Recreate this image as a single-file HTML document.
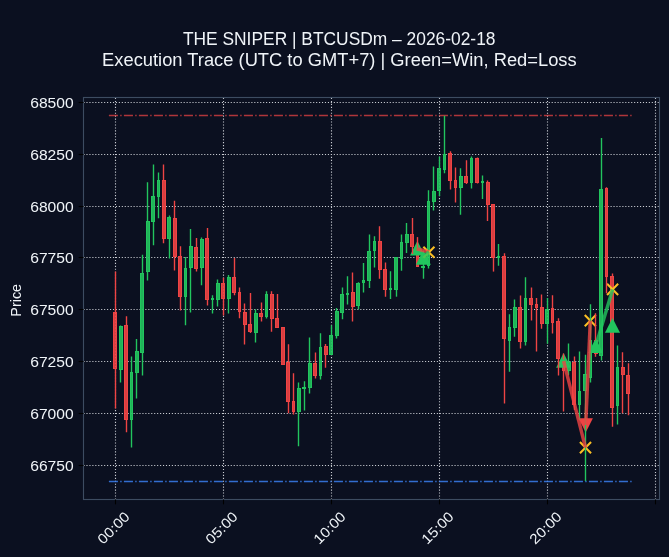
<!DOCTYPE html>
<html><head><meta charset="utf-8"><title>THE SNIPER | BTCUSDm</title>
<style>html,body{margin:0;padding:0;background:#0b1020;overflow:hidden}body{width:669px;height:557px;font-family:"Liberation Sans",sans-serif}</style>
</head><body>
<svg width="669" height="557" viewBox="0 0 669 557" style="display:block;font-family:'Liberation Sans',sans-serif">
<rect width="669" height="557" fill="#0b1020"/>
<g stroke="#c9ccd2" stroke-width="1.11" stroke-dasharray="1.1111 1.8333" fill="none">
<path d="M83.5 102.50H659.5"/>
<path d="M83.5 154.50H659.5"/>
<path d="M83.5 206.50H659.5"/>
<path d="M83.5 257.50H659.5"/>
<path d="M83.5 309.50H659.5"/>
<path d="M83.5 361.50H659.5"/>
<path d="M83.5 413.50H659.5"/>
<path d="M83.5 465.50H659.5"/>
<path d="M115.50 499.5V97.5"/>
<path d="M223.50 499.5V97.5"/>
<path d="M331.50 499.5V97.5"/>
<path d="M439.50 499.5V97.5"/>
<path d="M547.50 499.5V97.5"/>
<path d="M655.50 499.5V97.5"/>
</g>
<path d="M108.9 115.5H631.8" stroke="#ef4444" stroke-opacity="0.72" stroke-width="1.39" stroke-dasharray="9.06 2.26 1.42 2.26" fill="none"/>
<path d="M108.9 481.5H632" stroke="#3b82f6" stroke-opacity="0.82" stroke-width="1.39" stroke-dasharray="9.06 2.26 1.42 2.26" fill="none"/>
<rect x="113.5" y="312.5" width="3" height="56.0" fill="#ef4444" fill-opacity="0.9" stroke="#ef4444" stroke-width="1"/>
<rect x="119.5" y="326.5" width="3" height="43.0" fill="#22c55e" fill-opacity="0.9" stroke="#22c55e" stroke-width="1"/>
<rect x="124.5" y="325.5" width="3" height="94.0" fill="#ef4444" fill-opacity="0.9" stroke="#ef4444" stroke-width="1"/>
<rect x="130.5" y="372.5" width="2" height="47.0" fill="#22c55e" fill-opacity="0.9" stroke="#22c55e" stroke-width="1"/>
<rect x="135.5" y="351.5" width="3" height="21.0" fill="#22c55e" fill-opacity="0.9" stroke="#22c55e" stroke-width="1"/>
<rect x="140.5" y="273.5" width="3" height="79.0" fill="#22c55e" fill-opacity="0.9" stroke="#22c55e" stroke-width="1"/>
<rect x="146.5" y="221.5" width="3" height="50.0" fill="#22c55e" fill-opacity="0.9" stroke="#22c55e" stroke-width="1"/>
<rect x="151.5" y="196.5" width="3" height="25.0" fill="#22c55e" fill-opacity="0.9" stroke="#22c55e" stroke-width="1"/>
<rect x="157.5" y="180.5" width="2" height="16.0" fill="#22c55e" fill-opacity="0.9" stroke="#22c55e" stroke-width="1"/>
<rect x="162.5" y="180.5" width="3" height="58.0" fill="#ef4444" fill-opacity="0.9" stroke="#ef4444" stroke-width="1"/>
<rect x="167.5" y="217.5" width="3" height="21.0" fill="#22c55e" fill-opacity="0.9" stroke="#22c55e" stroke-width="1"/>
<rect x="173.5" y="218.5" width="3" height="38.0" fill="#ef4444" fill-opacity="0.9" stroke="#ef4444" stroke-width="1"/>
<rect x="178.5" y="256.5" width="3" height="40.0" fill="#ef4444" fill-opacity="0.9" stroke="#ef4444" stroke-width="1"/>
<rect x="184.5" y="268.5" width="2" height="28.0" fill="#22c55e" fill-opacity="0.9" stroke="#22c55e" stroke-width="1"/>
<rect x="189.5" y="246.5" width="3" height="21.0" fill="#22c55e" fill-opacity="0.9" stroke="#22c55e" stroke-width="1"/>
<rect x="194.5" y="247.5" width="3" height="21.0" fill="#ef4444" fill-opacity="0.9" stroke="#ef4444" stroke-width="1"/>
<rect x="200.5" y="239.5" width="3" height="28.0" fill="#22c55e" fill-opacity="0.9" stroke="#22c55e" stroke-width="1"/>
<rect x="205.5" y="238.5" width="3" height="61.0" fill="#ef4444" fill-opacity="0.9" stroke="#ef4444" stroke-width="1"/>
<rect x="211.5" y="298.5" width="2" height="1.0" fill="#22c55e" fill-opacity="0.9" stroke="#22c55e" stroke-width="1"/>
<rect x="216.5" y="283.5" width="3" height="16.0" fill="#22c55e" fill-opacity="0.9" stroke="#22c55e" stroke-width="1"/>
<rect x="221.5" y="283.5" width="3" height="15.0" fill="#ef4444" fill-opacity="0.9" stroke="#ef4444" stroke-width="1"/>
<rect x="227.5" y="277.5" width="3" height="21.0" fill="#22c55e" fill-opacity="0.9" stroke="#22c55e" stroke-width="1"/>
<rect x="232.5" y="277.5" width="3" height="15.0" fill="#ef4444" fill-opacity="0.9" stroke="#ef4444" stroke-width="1"/>
<rect x="238.5" y="292.5" width="2" height="19.0" fill="#ef4444" fill-opacity="0.9" stroke="#ef4444" stroke-width="1"/>
<rect x="243.5" y="312.5" width="3" height="12.0" fill="#ef4444" fill-opacity="0.9" stroke="#ef4444" stroke-width="1"/>
<rect x="248.5" y="324.5" width="3" height="7.0" fill="#ef4444" fill-opacity="0.9" stroke="#ef4444" stroke-width="1"/>
<rect x="254.5" y="313.5" width="3" height="19.0" fill="#22c55e" fill-opacity="0.9" stroke="#22c55e" stroke-width="1"/>
<rect x="259.5" y="313.5" width="3" height="3.0" fill="#ef4444" fill-opacity="0.9" stroke="#ef4444" stroke-width="1"/>
<rect x="265.5" y="294.5" width="2" height="22.0" fill="#22c55e" fill-opacity="0.9" stroke="#22c55e" stroke-width="1"/>
<rect x="270.5" y="294.5" width="3" height="24.0" fill="#ef4444" fill-opacity="0.9" stroke="#ef4444" stroke-width="1"/>
<rect x="275.5" y="318.5" width="3" height="9.0" fill="#ef4444" fill-opacity="0.9" stroke="#ef4444" stroke-width="1"/>
<rect x="281.5" y="327.5" width="3" height="37.0" fill="#ef4444" fill-opacity="0.9" stroke="#ef4444" stroke-width="1"/>
<rect x="286.5" y="362.5" width="3" height="39.0" fill="#ef4444" fill-opacity="0.9" stroke="#ef4444" stroke-width="1"/>
<rect x="292.5" y="401.5" width="2" height="10.0" fill="#ef4444" fill-opacity="0.9" stroke="#ef4444" stroke-width="1"/>
<rect x="297.5" y="388.5" width="3" height="23.0" fill="#22c55e" fill-opacity="0.9" stroke="#22c55e" stroke-width="1"/>
<rect x="302.5" y="387.5" width="3" height="1.0" fill="#22c55e" fill-opacity="0.9" stroke="#22c55e" stroke-width="1"/>
<rect x="308.5" y="363.5" width="3" height="24.0" fill="#22c55e" fill-opacity="0.9" stroke="#22c55e" stroke-width="1"/>
<rect x="313.5" y="363.5" width="3" height="12.0" fill="#ef4444" fill-opacity="0.9" stroke="#ef4444" stroke-width="1"/>
<rect x="319.5" y="347.5" width="2" height="28.0" fill="#22c55e" fill-opacity="0.9" stroke="#22c55e" stroke-width="1"/>
<rect x="324.5" y="346.5" width="3" height="8.0" fill="#ef4444" fill-opacity="0.9" stroke="#ef4444" stroke-width="1"/>
<rect x="329.5" y="335.5" width="3" height="19.0" fill="#22c55e" fill-opacity="0.9" stroke="#22c55e" stroke-width="1"/>
<rect x="335.5" y="311.5" width="3" height="24.0" fill="#22c55e" fill-opacity="0.9" stroke="#22c55e" stroke-width="1"/>
<rect x="340.5" y="294.5" width="3" height="18.0" fill="#22c55e" fill-opacity="0.9" stroke="#22c55e" stroke-width="1"/>
<rect x="346.5" y="293.5" width="2" height="1.0" fill="#22c55e" fill-opacity="0.9" stroke="#22c55e" stroke-width="1"/>
<rect x="351.5" y="292.5" width="3" height="14.0" fill="#ef4444" fill-opacity="0.9" stroke="#ef4444" stroke-width="1"/>
<rect x="356.5" y="283.5" width="3" height="22.0" fill="#22c55e" fill-opacity="0.9" stroke="#22c55e" stroke-width="1"/>
<rect x="362.5" y="280.5" width="2" height="2.0" fill="#22c55e" fill-opacity="0.9" stroke="#22c55e" stroke-width="1"/>
<rect x="367.5" y="251.5" width="3" height="29.0" fill="#22c55e" fill-opacity="0.9" stroke="#22c55e" stroke-width="1"/>
<rect x="373.5" y="241.5" width="2" height="9.0" fill="#22c55e" fill-opacity="0.9" stroke="#22c55e" stroke-width="1"/>
<rect x="378.5" y="241.5" width="3" height="28.0" fill="#ef4444" fill-opacity="0.9" stroke="#ef4444" stroke-width="1"/>
<rect x="383.5" y="269.5" width="3" height="20.0" fill="#ef4444" fill-opacity="0.9" stroke="#ef4444" stroke-width="1"/>
<rect x="389.5" y="288.5" width="2" height="1.0" fill="#22c55e" fill-opacity="0.9" stroke="#22c55e" stroke-width="1"/>
<rect x="394.5" y="257.5" width="3" height="32.0" fill="#22c55e" fill-opacity="0.9" stroke="#22c55e" stroke-width="1"/>
<rect x="400.5" y="242.5" width="2" height="16.0" fill="#22c55e" fill-opacity="0.9" stroke="#22c55e" stroke-width="1"/>
<rect x="405.5" y="234.5" width="3" height="8.0" fill="#22c55e" fill-opacity="0.9" stroke="#22c55e" stroke-width="1"/>
<rect x="410.5" y="234.5" width="3" height="12.0" fill="#ef4444" fill-opacity="0.9" stroke="#ef4444" stroke-width="1"/>
<rect x="416.5" y="247.5" width="2" height="19.0" fill="#ef4444" fill-opacity="0.9" stroke="#ef4444" stroke-width="1"/>
<rect x="421.5" y="266.5" width="3" height="1.0" fill="#22c55e" fill-opacity="0.9" stroke="#22c55e" stroke-width="1"/>
<rect x="427.5" y="201.5" width="2" height="64.0" fill="#22c55e" fill-opacity="0.9" stroke="#22c55e" stroke-width="1"/>
<rect x="432.5" y="191.5" width="3" height="10.0" fill="#22c55e" fill-opacity="0.9" stroke="#22c55e" stroke-width="1"/>
<rect x="437.5" y="168.5" width="3" height="22.0" fill="#22c55e" fill-opacity="0.9" stroke="#22c55e" stroke-width="1"/>
<rect x="443.5" y="154.5" width="2" height="15.0" fill="#22c55e" fill-opacity="0.9" stroke="#22c55e" stroke-width="1"/>
<rect x="448.5" y="153.5" width="3" height="27.0" fill="#ef4444" fill-opacity="0.9" stroke="#ef4444" stroke-width="1"/>
<rect x="454.5" y="180.5" width="2" height="7.0" fill="#ef4444" fill-opacity="0.9" stroke="#ef4444" stroke-width="1"/>
<rect x="459.5" y="176.5" width="3" height="11.0" fill="#22c55e" fill-opacity="0.9" stroke="#22c55e" stroke-width="1"/>
<rect x="464.5" y="176.5" width="3" height="6.0" fill="#ef4444" fill-opacity="0.9" stroke="#ef4444" stroke-width="1"/>
<rect x="470.5" y="158.5" width="2" height="24.0" fill="#22c55e" fill-opacity="0.9" stroke="#22c55e" stroke-width="1"/>
<rect x="475.5" y="158.5" width="3" height="24.0" fill="#ef4444" fill-opacity="0.9" stroke="#ef4444" stroke-width="1"/>
<rect x="481.5" y="181.5" width="2" height="1.0" fill="#22c55e" fill-opacity="0.9" stroke="#22c55e" stroke-width="1"/>
<rect x="486.5" y="182.5" width="3" height="22.0" fill="#ef4444" fill-opacity="0.9" stroke="#ef4444" stroke-width="1"/>
<rect x="491.5" y="204.5" width="3" height="53.0" fill="#ef4444" fill-opacity="0.9" stroke="#ef4444" stroke-width="1"/>
<rect x="497.5" y="256.5" width="2" height="1.0" fill="#22c55e" fill-opacity="0.9" stroke="#22c55e" stroke-width="1"/>
<rect x="502.5" y="256.5" width="3" height="82.0" fill="#ef4444" fill-opacity="0.9" stroke="#ef4444" stroke-width="1"/>
<rect x="508.5" y="327.5" width="2" height="13.0" fill="#22c55e" fill-opacity="0.9" stroke="#22c55e" stroke-width="1"/>
<rect x="513.5" y="307.5" width="3" height="20.0" fill="#22c55e" fill-opacity="0.9" stroke="#22c55e" stroke-width="1"/>
<rect x="518.5" y="307.5" width="3" height="34.0" fill="#ef4444" fill-opacity="0.9" stroke="#ef4444" stroke-width="1"/>
<rect x="524.5" y="298.5" width="2" height="43.0" fill="#22c55e" fill-opacity="0.9" stroke="#22c55e" stroke-width="1"/>
<rect x="529.5" y="298.5" width="3" height="6.0" fill="#ef4444" fill-opacity="0.9" stroke="#ef4444" stroke-width="1"/>
<rect x="535.5" y="304.5" width="2" height="3.0" fill="#ef4444" fill-opacity="0.9" stroke="#ef4444" stroke-width="1"/>
<rect x="540.5" y="307.5" width="3" height="16.0" fill="#ef4444" fill-opacity="0.9" stroke="#ef4444" stroke-width="1"/>
<rect x="545.5" y="309.5" width="3" height="14.0" fill="#22c55e" fill-opacity="0.9" stroke="#22c55e" stroke-width="1"/>
<rect x="551.5" y="308.5" width="2" height="14.0" fill="#ef4444" fill-opacity="0.9" stroke="#ef4444" stroke-width="1"/>
<rect x="556.5" y="321.5" width="3" height="37.0" fill="#ef4444" fill-opacity="0.9" stroke="#ef4444" stroke-width="1"/>
<rect x="562.5" y="359.5" width="2" height="11.0" fill="#ef4444" fill-opacity="0.9" stroke="#ef4444" stroke-width="1"/>
<rect x="567.5" y="362.5" width="3" height="8.0" fill="#22c55e" fill-opacity="0.9" stroke="#22c55e" stroke-width="1"/>
<rect x="572.5" y="362.5" width="3" height="42.0" fill="#ef4444" fill-opacity="0.9" stroke="#ef4444" stroke-width="1"/>
<rect x="578.5" y="391.5" width="2" height="13.0" fill="#22c55e" fill-opacity="0.9" stroke="#22c55e" stroke-width="1"/>
<rect x="583.5" y="374.5" width="3" height="16.0" fill="#22c55e" fill-opacity="0.9" stroke="#22c55e" stroke-width="1"/>
<rect x="589.5" y="340.5" width="2" height="37.0" fill="#22c55e" fill-opacity="0.9" stroke="#22c55e" stroke-width="1"/>
<rect x="594.5" y="340.5" width="3" height="13.0" fill="#ef4444" fill-opacity="0.9" stroke="#ef4444" stroke-width="1"/>
<rect x="599.5" y="189.5" width="3" height="166.0" fill="#22c55e" fill-opacity="0.9" stroke="#22c55e" stroke-width="1"/>
<rect x="605.5" y="188.5" width="2" height="88.0" fill="#ef4444" fill-opacity="0.9" stroke="#ef4444" stroke-width="1"/>
<rect x="610.5" y="276.5" width="3" height="131.0" fill="#ef4444" fill-opacity="0.9" stroke="#ef4444" stroke-width="1"/>
<rect x="616.5" y="367.5" width="2" height="38.0" fill="#22c55e" fill-opacity="0.9" stroke="#22c55e" stroke-width="1"/>
<rect x="621.5" y="367.5" width="3" height="7.0" fill="#ef4444" fill-opacity="0.9" stroke="#ef4444" stroke-width="1"/>
<rect x="626.5" y="375.5" width="3" height="18.0" fill="#ef4444" fill-opacity="0.9" stroke="#ef4444" stroke-width="1"/>
<path d="M417.4 240.8L424.79999999999995 255.6H410.0Z" fill="#22c55e"/>
<path d="M423.4 250.0L430.84999999999997 264.8H415.95Z" fill="#22c55e"/>
<path d="M423.35 246.75L434.45 257.85M423.35 257.85L434.45 246.75" stroke="#fbbf24" stroke-width="2.08" fill="none"/>
<path d="M563.6 353.0L571.0500000000001 367.7H556.15Z" fill="#22c55e"/>
<path d="M585.7 432.6L592.9000000000001 418.2H578.5Z" fill="#ef4444"/>
<path d="M595.7 338.2L603.1 352.9H588.3000000000001Z" fill="#22c55e"/>
<path d="M612.5 318.0L620.05 332.7H604.95Z" fill="#22c55e"/>
<path d="M579.95 442.05L591.05 453.15M579.95 453.15L591.05 442.05" stroke="#fbbf24" stroke-width="2.08" fill="none"/>
<path d="M584.75 315.05L595.85 326.15M584.75 326.15L595.85 315.05" stroke="#fbbf24" stroke-width="2.08" fill="none"/>
<path d="M607.05 283.85L618.15 294.95M607.05 294.95L618.15 283.85" stroke="#fbbf24" stroke-width="2.08" fill="none"/>
<path d="M115.5 271.4V312.5M115.5 368.5V408.5" stroke="#ef4444" stroke-width="1.39" fill="none"/>
<path d="M120.5 325.5V326.5M120.5 369.5V382.5" stroke="#22c55e" stroke-width="1.39" fill="none"/>
<path d="M126.5 316.3V325.5M126.5 419.5V432.3" stroke="#ef4444" stroke-width="1.39" fill="none"/>
<path d="M131.5 356.6V372.5M131.5 419.5V447.6" stroke="#22c55e" stroke-width="1.39" fill="none"/>
<path d="M136.5 339.0V351.5M136.5 372.5V398.6" stroke="#22c55e" stroke-width="1.39" fill="none"/>
<path d="M142.5 254.7V273.5M142.5 352.5V375.4" stroke="#22c55e" stroke-width="1.39" fill="none"/>
<path d="M147.5 182.3V221.5M147.5 271.5V280.4" stroke="#22c55e" stroke-width="1.39" fill="none"/>
<path d="M153.5 164.4V196.5M153.5 221.5V245.2" stroke="#22c55e" stroke-width="1.39" fill="none"/>
<path d="M158.5 172.5V180.5M158.5 196.5V218.3" stroke="#22c55e" stroke-width="1.39" fill="none"/>
<path d="M163.5 164.4V180.5M163.5 238.5V243.3" stroke="#ef4444" stroke-width="1.39" fill="none"/>
<path d="M169.5 215.6V217.5M169.5 238.5V258.5" stroke="#22c55e" stroke-width="1.39" fill="none"/>
<path d="M174.5 200.7V218.5M174.5 256.5V270.5" stroke="#ef4444" stroke-width="1.39" fill="none"/>
<path d="M180.5 246.2V256.5M180.5 296.5V310.6" stroke="#ef4444" stroke-width="1.39" fill="none"/>
<path d="M185.5 257.0V268.5M185.5 296.5V325.3" stroke="#22c55e" stroke-width="1.39" fill="none"/>
<path d="M190.5 229.0V246.5M190.5 267.5V312.4" stroke="#22c55e" stroke-width="1.39" fill="none"/>
<path d="M196.5 238.0V247.5M196.5 268.5V271.4" stroke="#ef4444" stroke-width="1.39" fill="none"/>
<path d="M201.5 237.5V239.5M201.5 267.5V285.3" stroke="#22c55e" stroke-width="1.39" fill="none"/>
<path d="M207.5 228.1V238.5M207.5 299.5V305.6" stroke="#ef4444" stroke-width="1.39" fill="none"/>
<path d="M212.5 295.3V298.5M212.5 299.5V313.6" stroke="#22c55e" stroke-width="1.39" fill="none"/>
<path d="M217.5 279.5V283.5M217.5 299.5V306.5" stroke="#22c55e" stroke-width="1.39" fill="none"/>
<path d="M223.5 277.8V283.5M223.5 298.5V315.5" stroke="#ef4444" stroke-width="1.39" fill="none"/>
<path d="M228.5 275.1V277.5M228.5 298.5V313.4" stroke="#22c55e" stroke-width="1.39" fill="none"/>
<path d="M234.5 258.1V277.5M234.5 292.5V295.3" stroke="#ef4444" stroke-width="1.39" fill="none"/>
<path d="M239.5 287.4V292.5M239.5 311.5V318.3" stroke="#ef4444" stroke-width="1.39" fill="none"/>
<path d="M244.5 303.5V312.5M244.5 324.5V344.6" stroke="#ef4444" stroke-width="1.39" fill="none"/>
<path d="M250.5 293.1V324.5M250.5 331.5V333.0" stroke="#ef4444" stroke-width="1.39" fill="none"/>
<path d="M255.5 309.3V313.5M255.5 332.5V342.4" stroke="#22c55e" stroke-width="1.39" fill="none"/>
<path d="M261.5 302.5V313.5M261.5 316.5V321.5" stroke="#ef4444" stroke-width="1.39" fill="none"/>
<path d="M266.5 291.3V294.5M266.5 316.5V318.6" stroke="#22c55e" stroke-width="1.39" fill="none"/>
<path d="M271.5 291.3V294.5M271.5 318.5V331.7" stroke="#ef4444" stroke-width="1.39" fill="none"/>
<path d="M277.5 294.0V318.5" stroke="#ef4444" stroke-width="1.39" fill="none"/>
<path d="M288.5 344.3V362.5M288.5 401.5V413.3" stroke="#ef4444" stroke-width="1.39" fill="none"/>
<path d="M293.5 373.2V401.5M293.5 411.5V414.5" stroke="#ef4444" stroke-width="1.39" fill="none"/>
<path d="M298.5 382.6V388.5M298.5 411.5V446.3" stroke="#22c55e" stroke-width="1.39" fill="none"/>
<path d="M304.5 381.3V387.5M304.5 388.5V410.4" stroke="#22c55e" stroke-width="1.39" fill="none"/>
<path d="M309.5 337.5V363.5M309.5 387.5V393.5" stroke="#22c55e" stroke-width="1.39" fill="none"/>
<path d="M315.5 352.6V363.5M315.5 375.5V378.6" stroke="#ef4444" stroke-width="1.39" fill="none"/>
<path d="M320.5 333.2V347.5M320.5 375.5V379.5" stroke="#22c55e" stroke-width="1.39" fill="none"/>
<path d="M325.5 344.0V346.5M325.5 354.5V367.8" stroke="#ef4444" stroke-width="1.39" fill="none"/>
<path d="M331.5 325.3V335.5" stroke="#22c55e" stroke-width="1.39" fill="none"/>
<path d="M336.5 308.1V311.5M336.5 335.5V338.6" stroke="#22c55e" stroke-width="1.39" fill="none"/>
<path d="M342.5 287.4V294.5M342.5 312.5V319.3" stroke="#22c55e" stroke-width="1.39" fill="none"/>
<path d="M347.5 276.2V293.5M347.5 294.5V304.4" stroke="#22c55e" stroke-width="1.39" fill="none"/>
<path d="M352.5 272.5V292.5M352.5 306.5V321.6" stroke="#ef4444" stroke-width="1.39" fill="none"/>
<path d="M358.5 282.3V283.5M358.5 305.5V309.2" stroke="#22c55e" stroke-width="1.39" fill="none"/>
<path d="M363.5 263.1V280.5M363.5 282.5V292.4" stroke="#22c55e" stroke-width="1.39" fill="none"/>
<path d="M369.5 234.4V251.5M369.5 280.5V287.9" stroke="#22c55e" stroke-width="1.39" fill="none"/>
<path d="M374.5 236.2V241.5M374.5 250.5V267.6" stroke="#22c55e" stroke-width="1.39" fill="none"/>
<path d="M379.5 226.3V241.5M379.5 269.5V278.7" stroke="#ef4444" stroke-width="1.39" fill="none"/>
<path d="M385.5 262.6V269.5M385.5 289.5V296.7" stroke="#ef4444" stroke-width="1.39" fill="none"/>
<path d="M390.5 271.2V288.5M390.5 289.5V299.0" stroke="#22c55e" stroke-width="1.39" fill="none"/>
<path d="M396.5 289.5V296.7" stroke="#22c55e" stroke-width="1.39" fill="none"/>
<path d="M401.5 234.4V242.5M401.5 258.5V270.8" stroke="#22c55e" stroke-width="1.39" fill="none"/>
<path d="M406.5 223.0V234.5M406.5 242.5V252.9" stroke="#22c55e" stroke-width="1.39" fill="none"/>
<path d="M412.5 218.0V234.5M412.5 246.5V254.0" stroke="#ef4444" stroke-width="1.39" fill="none"/>
<path d="M417.5 237.1V247.5" stroke="#ef4444" stroke-width="1.39" fill="none"/>
<path d="M423.5 258.0V266.5M423.5 267.5V278.7" stroke="#22c55e" stroke-width="1.39" fill="none"/>
<path d="M428.5 190.3V201.5M428.5 265.5V268.5" stroke="#22c55e" stroke-width="1.39" fill="none"/>
<path d="M433.5 166.4V191.5M433.5 201.5V210.5" stroke="#22c55e" stroke-width="1.39" fill="none"/>
<path d="M439.5 156.6V168.5M439.5 190.5V196.0" stroke="#22c55e" stroke-width="1.39" fill="none"/>
<path d="M444.5 115.8V154.5M444.5 169.5V173.3" stroke="#22c55e" stroke-width="1.39" fill="none"/>
<path d="M450.5 151.3V153.5M450.5 180.5V189.4" stroke="#ef4444" stroke-width="1.39" fill="none"/>
<path d="M455.5 167.5V180.5M455.5 187.5V202.4" stroke="#ef4444" stroke-width="1.39" fill="none"/>
<path d="M460.5 168.2V176.5M460.5 187.5V214.7" stroke="#22c55e" stroke-width="1.39" fill="none"/>
<path d="M466.5 160.3V176.5M466.5 182.5V184.0" stroke="#ef4444" stroke-width="1.39" fill="none"/>
<path d="M471.5 156.6V158.5M471.5 182.5V188.5" stroke="#22c55e" stroke-width="1.39" fill="none"/>
<path d="M477.5 157.5V158.5M477.5 182.5V183.5" stroke="#ef4444" stroke-width="1.39" fill="none"/>
<path d="M482.5 175.4V181.5M482.5 182.5V198.9" stroke="#22c55e" stroke-width="1.39" fill="none"/>
<path d="M487.5 180.4V182.5M487.5 204.5V221.0" stroke="#ef4444" stroke-width="1.39" fill="none"/>
<path d="M493.5 257.5V271.6" stroke="#ef4444" stroke-width="1.39" fill="none"/>
<path d="M498.5 244.1V256.5M498.5 257.5V265.8" stroke="#22c55e" stroke-width="1.39" fill="none"/>
<path d="M504.5 253.2V256.5M504.5 338.5V403.6" stroke="#ef4444" stroke-width="1.39" fill="none"/>
<path d="M509.5 314.3V327.5M509.5 340.5V371.7" stroke="#22c55e" stroke-width="1.39" fill="none"/>
<path d="M514.5 299.4V307.5M514.5 327.5V336.7" stroke="#22c55e" stroke-width="1.39" fill="none"/>
<path d="M520.5 295.4V307.5M520.5 341.5V348.5" stroke="#ef4444" stroke-width="1.39" fill="none"/>
<path d="M525.5 277.3V298.5M525.5 341.5V345.6" stroke="#22c55e" stroke-width="1.39" fill="none"/>
<path d="M531.5 287.4V298.5M531.5 304.5V320.4" stroke="#ef4444" stroke-width="1.39" fill="none"/>
<path d="M536.5 298.1V304.5M536.5 307.5V351.6" stroke="#ef4444" stroke-width="1.39" fill="none"/>
<path d="M541.5 294.4V307.5M541.5 323.5V328.7" stroke="#ef4444" stroke-width="1.39" fill="none"/>
<path d="M547.5 298.1V309.5M547.5 323.5V343.8" stroke="#22c55e" stroke-width="1.39" fill="none"/>
<path d="M552.5 295.3V308.5M552.5 322.5V333.6" stroke="#ef4444" stroke-width="1.39" fill="none"/>
<path d="M558.5 318.3V321.5M558.5 358.5V375.4" stroke="#ef4444" stroke-width="1.39" fill="none"/>
<path d="M563.5 353.5V359.5M563.5 370.5V411.6" stroke="#ef4444" stroke-width="1.39" fill="none"/>
<path d="M568.5 343.4V362.5M568.5 370.5V375.2" stroke="#22c55e" stroke-width="1.39" fill="none"/>
<path d="M574.5 356.4V362.5M574.5 404.5V410.0" stroke="#ef4444" stroke-width="1.39" fill="none"/>
<path d="M579.5 351.5V391.5M579.5 404.5V419.9" stroke="#22c55e" stroke-width="1.39" fill="none"/>
<path d="M585.5 354.8V374.5M585.5 390.5V481.0" stroke="#22c55e" stroke-width="1.39" fill="none"/>
<path d="M590.5 304.3V340.5M590.5 377.5V382.4" stroke="#22c55e" stroke-width="1.39" fill="none"/>
<path d="M595.5 313.3V340.5M595.5 353.5V356.8" stroke="#ef4444" stroke-width="1.39" fill="none"/>
<path d="M601.5 138.1V189.5M601.5 355.5V360.4" stroke="#22c55e" stroke-width="1.39" fill="none"/>
<path d="M606.5 187.3V188.5M606.5 276.5V293.2" stroke="#ef4444" stroke-width="1.39" fill="none"/>
<path d="M612.5 273.5V276.5M612.5 407.5V426.7" stroke="#ef4444" stroke-width="1.39" fill="none"/>
<path d="M617.5 345.5V367.5M617.5 405.5V424.4" stroke="#22c55e" stroke-width="1.39" fill="none"/>
<path d="M622.5 352.3V367.5M622.5 374.5V413.2" stroke="#ef4444" stroke-width="1.39" fill="none"/>
<path d="M628.5 363.3V375.5M628.5 393.5V415.2" stroke="#ef4444" stroke-width="1.39" fill="none"/>
<g fill="none" stroke-linecap="butt">
<path d="M416.6 248.8L429.2 252.0" stroke="#ef4444" stroke-opacity="0.8" stroke-width="3.47"/>
<path d="M422.9 257.8L428.9 251.8" stroke="#22c55e" stroke-opacity="0.8" stroke-width="3.47"/>
<path d="M563.6 361.0L585.5 447.6" stroke="#ef4444" stroke-opacity="0.8" stroke-width="3.47"/>
<path d="M585.7 425.0L590.3 320.6" stroke="#ef4444" stroke-opacity="0.8" stroke-width="3.47"/>
<path d="M595.7 346.0L612.6 289.4" stroke="#22c55e" stroke-opacity="0.8" stroke-width="3.47"/>
</g>
<rect x="83.5" y="97.5" width="576.0" height="402.0" fill="none" stroke="#3d4c61" stroke-width="1.11"/>
<g stroke="#000" stroke-width="1.11">
<path d="M78.64 102.50H83.5"/>
<path d="M78.64 154.50H83.5"/>
<path d="M78.64 206.50H83.5"/>
<path d="M78.64 257.50H83.5"/>
<path d="M78.64 309.50H83.5"/>
<path d="M78.64 361.50H83.5"/>
<path d="M78.64 413.50H83.5"/>
<path d="M78.64 465.50H83.5"/>
<path d="M115.50 499.5V504.36"/>
<path d="M223.50 499.5V504.36"/>
<path d="M331.50 499.5V504.36"/>
<path d="M439.50 499.5V504.36"/>
<path d="M547.50 499.5V504.36"/>
<path d="M655.50 499.5V504.36"/>
</g>
<g fill="#f1f5f9" opacity="0.999">
<text x="182.9" y="44.9" font-size="18" textLength="312.6" lengthAdjust="spacingAndGlyphs">THE SNIPER | BTCUSDm – 2026-02-18</text>
<text x="102.1" y="65.9" font-size="18" textLength="474.6" lengthAdjust="spacingAndGlyphs">Execution Trace (UTC to GMT+7) | Green=Win, Red=Loss</text>
<text x="30.2" y="107.90" font-size="14.15" textLength="43.5" lengthAdjust="spacingAndGlyphs">68500</text>
<text x="30.2" y="159.75" font-size="14.15" textLength="43.5" lengthAdjust="spacingAndGlyphs">68250</text>
<text x="30.2" y="211.60" font-size="14.15" textLength="43.5" lengthAdjust="spacingAndGlyphs">68000</text>
<text x="30.2" y="263.45" font-size="14.15" textLength="43.5" lengthAdjust="spacingAndGlyphs">67750</text>
<text x="30.2" y="315.30" font-size="14.15" textLength="43.5" lengthAdjust="spacingAndGlyphs">67500</text>
<text x="30.2" y="367.15" font-size="14.15" textLength="43.5" lengthAdjust="spacingAndGlyphs">67250</text>
<text x="30.2" y="419.00" font-size="14.15" textLength="43.5" lengthAdjust="spacingAndGlyphs">67000</text>
<text x="30.2" y="470.85" font-size="14.15" textLength="43.5" lengthAdjust="spacingAndGlyphs">66750</text>
<text transform="translate(113.40 527.80) rotate(-45)" x="-19.3" y="5.05" font-size="14.15" textLength="38.6" lengthAdjust="spacingAndGlyphs">00:00</text>
<text transform="translate(221.40 527.80) rotate(-45)" x="-19.3" y="5.05" font-size="14.15" textLength="38.6" lengthAdjust="spacingAndGlyphs">05:00</text>
<text transform="translate(329.40 527.80) rotate(-45)" x="-19.3" y="5.05" font-size="14.15" textLength="38.6" lengthAdjust="spacingAndGlyphs">10:00</text>
<text transform="translate(437.40 527.80) rotate(-45)" x="-19.3" y="5.05" font-size="14.15" textLength="38.6" lengthAdjust="spacingAndGlyphs">15:00</text>
<text transform="translate(545.40 527.80) rotate(-45)" x="-19.3" y="5.05" font-size="14.15" textLength="38.6" lengthAdjust="spacingAndGlyphs">20:00</text>
<text transform="translate(21.4 300.3) rotate(-90)" x="-16.4" y="0" font-size="14.15" textLength="32.8" lengthAdjust="spacingAndGlyphs">Price</text>
</g>
</svg>
</body></html>
